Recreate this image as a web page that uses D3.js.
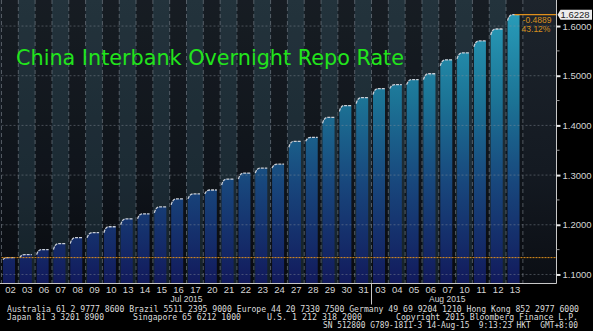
<!DOCTYPE html>
<html>
<head>
<meta charset="utf-8">
<script src="https://cdn.jsdelivr.net/npm/d3@7"></script>
<style>
  body { margin: 0; background: #000; }
  svg { display: block; }
</style>
</head>
<body>
<svg id="chart" width="593" height="331"></svg>
<script>
// trading days (Jul 2015 .. Aug 2015) and daily closing rate
var days = [ '02', '03', '06', '07', '08', '09', '10', '13', '14', '15', '16', '17', '20', '21', '22',
  '23', '24', '27', '28', '29', '30', '31', '03', '04', '05', '06', '07', '10', '11', '12', '13' ];
var rates = [ 1.1339, 1.140, 1.150, 1.162, 1.174, 1.184, 1.196, 1.212, 1.222, 1.236, 1.252, 1.262, 1.270, 1.292, 1.304,
  1.314, 1.322, 1.368, 1.376, 1.416, 1.440, 1.456, 1.474, 1.482, 1.492, 1.504, 1.532, 1.546, 1.570, 1.594, 1.6228 ];
var yTicks = [ 1.1, 1.2, 1.3, 1.4, 1.5, 1.6 ];
var yMinor = [ 1.15, 1.25, 1.35, 1.45, 1.55 ];
var monthLabels = [ { name: 'Jul 2015', from: 0, to: 21 }, { name: 'Aug 2015', from: 22, to: 30 } ];
var lastValue = '1.6228', netChange = '-0.4889', pctChange = '43.12%';
var footer = [
  { text: 'Australia 61 2 9777 8600 Brazil 5511 2395 9000 Europe 44 20 7330 7500 Germany 49 69 9204 1210 Hong Kong 852 2977 6000', x: 7, y: 311.5, w: 572 },
  { text: 'Japan 81 3 3201 8900', x: 7, y: 319.5, w: 97 },
  { text: 'Singapore 65 6212 1000', x: 133, y: 319.5, w: 108 },
  { text: 'U.S. 1 212 318 2000', x: 267, y: 319.5, w: 95 },
  { text: 'Copyright 2015 Bloomberg Finance L.P.', x: 396, y: 319.5, w: 182 },
  { text: 'SN 512800 G789-1811-3 14-Aug-15  9:13:23 HKT  GMT+8:00', x: 323, y: 327.5, w: 255 }
];

var svg = d3.select( '#chart' ),
  plot = { left: 1.5, right: 556.5, top: 0, bottom: 283.5 };

var x = d3.scaleLinear()
  .domain( [ -0.5, 32.5 ] )
  .range( [ plot.left, plot.right ] );

var y = d3.scaleLinear()
  .domain( [ 1.0818, 1.6524 ] )
  .range( [ plot.bottom, plot.top ] );

var defs = svg.append( 'defs' );

var bg = defs.append( 'linearGradient' )
  .attr( 'id', 'bgGrad' ).attr( 'x1', 0 ).attr( 'y1', 0 ).attr( 'x2', 0 ).attr( 'y2', 1 );
bg.append( 'stop' ).attr( 'offset', '0%' ).attr( 'stop-color', '#1d242c' );
bg.append( 'stop' ).attr( 'offset', '60%' ).attr( 'stop-color', '#141a22' );
bg.append( 'stop' ).attr( 'offset', '100%' ).attr( 'stop-color', '#0b0e14' );

var barGrad = defs.append( 'linearGradient' )
  .attr( 'id', 'barGrad' ).attr( 'gradientUnits', 'userSpaceOnUse' )
  .attr( 'x1', 0 ).attr( 'y1', plot.top ).attr( 'x2', 0 ).attr( 'y2', plot.bottom );
barGrad.append( 'stop' ).attr( 'offset', '0%' ).attr( 'stop-color', '#2aa2be' );
barGrad.append( 'stop' ).attr( 'offset', '35%' ).attr( 'stop-color', '#1c7496' );
barGrad.append( 'stop' ).attr( 'offset', '65%' ).attr( 'stop-color', '#18467c' );
barGrad.append( 'stop' ).attr( 'offset', '100%' ).attr( 'stop-color', '#121a5c' );

/* Background */

svg.append( 'rect' )
  .attr( 'x', 0 ).attr( 'y', plot.top )
  .attr( 'width', plot.right ).attr( 'height', plot.bottom - plot.top )
  .style( 'fill', 'url(#bgGrad)' );

var slots = d3.range( 0, days.length );

svg.append( 'g' ).selectAll( 'rect' )
  .data( slots.filter( i => i % 2 === 1 ) )
  .enter().append( 'rect' )
    .attr( 'x', i => x( i - 0.5 ) )
    .attr( 'y', plot.top )
    .attr( 'width', x( 1 ) - x( 0 ) )
    .attr( 'height', plot.bottom - plot.top )
    .style( 'fill', '#3c6878' )
    .style( 'opacity', 0.22 );

svg.append( 'g' ).selectAll( 'rect' )
  .data( slots.filter( i => i % 2 === 0 ) )
  .enter().append( 'rect' )
    .attr( 'x', i => x( i - 0.5 ) )
    .attr( 'y', plot.top )
    .attr( 'width', x( 1 ) - x( 0 ) )
    .attr( 'height', plot.bottom - plot.top )
    .style( 'fill', '#000' )
    .style( 'opacity', 0.2 );

/* Bars (one mountain per session) */

function startLevel( d, i ) {
  var prev = i > 0 ? rates[ i - 1 ] : d - 0.004;
  return y( Math.max( prev, d - 0.012 ) );
}

function barPath( d, i ) {
  var x0 = x( i - 0.5 ) + 1.5,
    x1 = x0 + 12,
    top = y( d );
  return 'M' + x0 + ',' + plot.bottom + 'L' + x0 + ',' + startLevel( d, i ) +
    'Q' + ( x0 + 1.5 ) + ',' + top + ' ' + ( x0 + 5 ) + ',' + top +
    'L' + x1 + ',' + top + 'L' + x1 + ',' + plot.bottom + 'Z';
}

function topPath( d, i ) {
  var x0 = x( i - 0.5 ) + 1.5,
    x1 = x0 + 12,
    top = y( d );
  return 'M' + x0 + ',' + startLevel( d, i ) +
    'Q' + ( x0 + 1.5 ) + ',' + top + ' ' + ( x0 + 5 ) + ',' + top +
    'L' + x1 + ',' + top;
}

svg.append( 'g' ).selectAll( 'path' )
  .data( rates )
  .enter().append( 'path' )
    .attr( 'd', barPath )
    .style( 'fill', 'url(#barGrad)' );

svg.append( 'g' ).selectAll( 'path' )
  .data( rates )
  .enter().append( 'path' )
    .attr( 'd', topPath )
    .style( 'fill', 'none' )
    .style( 'stroke', '#c9ced6' )
    .style( 'stroke-width', 1.3 )
    .style( 'stroke-dasharray', '3,1' );

/* Grid */

svg.append( 'g' ).selectAll( 'line' )
  .data( d3.range( 0, days.length + 1 ) )
  .enter().append( 'line' )
    .attr( 'x1', i => x( i - 0.5 ) ).attr( 'x2', i => x( i - 0.5 ) )
    .attr( 'y1', plot.top ).attr( 'y2', plot.bottom )
    .style( 'stroke', '#9098a2' )
    .style( 'stroke-width', 1 )
    .style( 'stroke-dasharray', '4,3' )
    .style( 'opacity', 0.5 );

svg.append( 'g' ).selectAll( 'line' )
  .data( yTicks )
  .enter().append( 'line' )
    .attr( 'x1', plot.left ).attr( 'x2', plot.right )
    .attr( 'y1', d => y( d ) ).attr( 'y2', d => y( d ) )
    .style( 'stroke', '#8a929c' )
    .style( 'stroke-dasharray', '2,2' )
    .style( 'opacity', 0.45 );

// start level and last level
svg.append( 'line' )
  .attr( 'x1', plot.left ).attr( 'x2', plot.right )
  .attr( 'y1', y( rates[ 0 ] ) ).attr( 'y2', y( rates[ 0 ] ) )
  .style( 'stroke', '#e0901c' )
  .style( 'stroke-width', 1 )
  .style( 'stroke-dasharray', '2,1' );

svg.append( 'line' )
  .attr( 'x1', x( 30 ) ).attr( 'x2', plot.right )
  .attr( 'y1', y( rates[ 30 ] ) ).attr( 'y2', y( rates[ 30 ] ) )
  .style( 'stroke', '#e0901c' )
  .style( 'stroke-width', 1.2 );

/* Axes */

var labelFont = 'Liberation Sans, Arial, sans-serif';

svg.append( 'g' )
  .attr( 'class', 'y-axis' )
  .attr( 'transform', 'translate(' + plot.right + ',0)' )
  .call( d3.axisRight( y ).tickValues( yTicks ).tickFormat( d3.format( '.4f' ) ).tickSize( 4 ).tickPadding( 2 ) )
  .call( g => g.select( '.domain' ).attr( 'd', 'M0,' + plot.top + 'V' + plot.bottom ).style( 'stroke', '#c8c8c8' ) )
  .call( g => g.selectAll( '.tick line' ).style( 'stroke', '#e8e8e8' ).style( 'stroke-width', 2 ) )
  .call( g => g.selectAll( '.tick text' )
    .style( 'fill', '#d4d4d4' ).style( 'font-family', labelFont ).style( 'font-size', '9.5px' ) );

svg.append( 'g' ).selectAll( 'line' )
  .data( yMinor )
  .enter().append( 'line' )
    .attr( 'x1', plot.right ).attr( 'x2', plot.right + 3 )
    .attr( 'y1', d => y( d ) ).attr( 'y2', d => y( d ) )
    .style( 'stroke', '#9a9a9a' );

svg.append( 'g' )
  .attr( 'class', 'x-axis' )
  .attr( 'transform', 'translate(0,' + plot.bottom + ')' )
  .call( d3.axisBottom( x ).tickValues( slots ).tickFormat( i => days[ i ] ).tickSize( 0 ).tickPadding( 3 ) )
  .call( g => g.select( '.domain' ).attr( 'd', 'M0,0H' + plot.right ).style( 'stroke', '#c8c8c8' ) )
  .call( g => g.selectAll( '.tick text' )
    .style( 'fill', '#d4d4d4' ).style( 'font-family', labelFont ).style( 'font-size', '9.5px' ) );

svg.append( 'line' )
  .attr( 'x1', x( 21.5 ) ).attr( 'x2', x( 21.5 ) )
  .attr( 'y1', plot.bottom ).attr( 'y2', plot.bottom + 21 )
  .style( 'stroke', '#c8c8c8' );

svg.append( 'g' ).selectAll( 'text' )
  .data( monthLabels )
  .enter().append( 'text' )
    .attr( 'x', d => x( ( d.from + d.to ) / 2 ) )
    .attr( 'y', plot.bottom + 18.5 )
    .attr( 'text-anchor', 'middle' )
    .style( 'fill', '#d4d4d4' )
    .style( 'font-family', labelFont )
    .style( 'font-size', '8.5px' )
    .text( d => d.name );

/* Last value tag */

var tagY = y( rates[ rates.length - 1 ] );

svg.append( 'path' )
  .attr( 'd', 'M' + ( plot.right + 1 ) + ',' + tagY + 'L' + ( plot.right + 4 ) + ',' + ( tagY - 5 ) +
    'H592V' + ( tagY + 5 ) + 'H' + ( plot.right + 4 ) + 'Z' )
  .style( 'fill', '#ececec' );

svg.append( 'text' )
  .attr( 'x', 575 ).attr( 'y', tagY + 3.5 )
  .attr( 'text-anchor', 'middle' )
  .style( 'fill', '#222' )
  .style( 'font-family', labelFont )
  .style( 'font-size', '9.5px' )
  .text( lastValue );

svg.append( 'text' )
  .attr( 'x', 537 ).attr( 'y', tagY + 8 )
  .attr( 'text-anchor', 'middle' )
  .style( 'fill', '#d8901e' )
  .style( 'font-family', labelFont )
  .style( 'font-size', '8.5px' )
  .text( netChange );

svg.append( 'text' )
  .attr( 'x', 536 ).attr( 'y', tagY + 17 )
  .attr( 'text-anchor', 'middle' )
  .style( 'fill', '#d8901e' )
  .style( 'font-family', labelFont )
  .style( 'font-size', '8.5px' )
  .text( pctChange );

/* Title */

svg.append( 'text' )
  .attr( 'x', 16 ).attr( 'y', 65 )
  .attr( 'textLength', 388 )
  .attr( 'lengthAdjust', 'spacingAndGlyphs' )
  .style( 'fill', '#22e41c' )
  .style( 'font-family', 'DejaVu Sans, sans-serif' )
  .style( 'font-size', '22px' )
  .text( 'China Interbank Overnight Repo Rate' );

/* Footer */

svg.append( 'g' ).selectAll( 'text' )
  .data( footer )
  .enter().append( 'text' )
    .attr( 'x', d => d.x ).attr( 'y', d => d.y )
    .attr( 'textLength', d => d.w )
    .attr( 'lengthAdjust', 'spacingAndGlyphs' )
    .style( 'fill', '#dcdcdc' )
    .style( 'font-family', 'DejaVu Sans Mono, monospace' )
    .style( 'font-size', '8px' )
    .style( 'white-space', 'pre' )
    .text( d => d.text );
</script>
</body>
</html>
